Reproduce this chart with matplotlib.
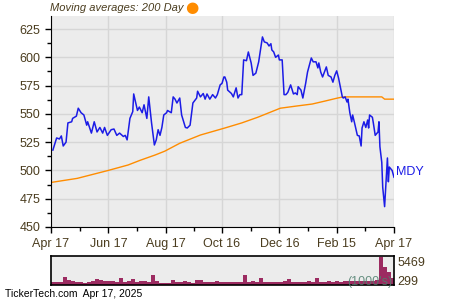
import pandas as pd
import matplotlib
matplotlib.use("Agg")
import matplotlib.pyplot as plt

plt.rcParams['font.family'] = ['Liberation Sans', 'DejaVu Sans']

start = pd.Timestamp('2024-04-17')

# MDY closing prices (days after Apr 17, 2024)
price_days = [2, 6, 9, 11, 13, 16, 18, 22, 23, 27, 29, 32, 35, 38, 39, 43, 46, 49, 52, 55,
              57, 60, 64, 67, 70, 73, 77, 79, 81, 84, 87, 88, 92, 94, 97, 99, 102, 104, 107, 110,
              112, 114, 116, 118, 120, 123, 124, 128, 130, 132, 134, 137, 139, 143, 145, 148, 151, 155, 156, 159,
              162, 164, 166, 169, 172, 175, 177, 180, 182, 184, 185, 187, 188, 192, 194, 197, 199, 201, 203, 205,
              208, 210, 213, 215, 218, 221, 225, 227, 230, 232, 234, 235, 237, 239, 242, 243, 246, 248, 250, 252,
              255, 258, 260, 262, 263, 266, 268, 271, 273, 277, 279, 282, 284, 285, 287, 289, 293, 295, 298, 300,
              302, 304, 306, 310, 311, 313, 315, 316, 318, 320, 321, 323, 326, 328, 330, 331, 333, 335, 337, 338,
              339, 342, 343, 345, 347, 348, 349, 350, 352, 353, 355, 358, 359, 360, 363, 365]
price = [518.0, 528.7, 527.8, 530.5, 521.6, 525.0, 542.0, 543.0, 546.0, 548.0,
         555.0, 551.0, 549.0, 540.0, 543.0, 533.0, 543.0, 534.0, 538.0, 533.0,
         538.0, 531.0, 536.0, 536.6, 531.0, 533.0, 530.0, 531.0, 527.0, 546.0,
         552.0, 567.6, 553.0, 556.0, 551.0, 558.0, 546.0, 565.0, 542.0, 522.5,
         527.0, 536.0, 531.0, 538.0, 549.0, 551.0, 553.0, 551.0, 565.0, 563.0,
         559.6, 564.0, 549.0, 538.0, 537.5, 540.0, 559.6, 564.0, 570.0, 565.0,
         568.0, 563.0, 567.6, 563.0, 567.0, 564.0, 567.0, 575.6, 577.0, 582.6,
         582.6, 578.0, 571.0, 568.0, 565.0, 573.0, 564.0, 567.0, 567.0, 597.7,
         597.0, 604.7, 595.0, 584.0, 586.0, 596.0, 618.0, 613.6, 612.7, 610.0,
         612.0, 606.5, 604.7, 600.0, 602.0, 597.7, 597.7, 567.0, 567.0, 569.0,
         575.6, 567.6, 568.5, 567.0, 574.0, 571.0, 564.0, 577.0, 587.0, 599.4,
         596.0, 596.0, 590.6, 595.0, 587.0, 582.6, 591.5, 584.0, 582.6, 578.0,
         584.0, 588.0, 581.7, 565.0, 564.0, 565.0, 560.5, 563.0, 551.0, 543.0,
         549.0, 542.0, 531.0, 530.5, 521.6, 537.5, 543.0, 538.0, 544.6, 537.5,
         549.0, 547.0, 542.0, 531.0, 533.0, 534.0, 543.0, 521.0, 507.0, 485.0,
         468.0, 511.0, 490.0, 503.0, 500.0, 494.0]

# 200 day moving average
ma_days = [1, 28, 60, 82, 95, 111, 121, 137, 159, 185, 203, 220, 244, 262, 278, 292,
           305, 311, 327, 352, 355, 365]
ma200 = [489.5, 493.0, 499.8, 504.8, 509.0, 513.7, 517.0, 524.0, 531.3, 537.5, 542.0, 547.0,
         555.0, 557.0, 558.7, 561.4, 564.0, 565.0, 565.0, 565.0, 563.0, 563.0]

# volume (thousands), one bar per ~4.26 days
volume = [640, 640, 580, 1600, 900, 770, 510, 580, 320, 640,
          770, 1150, 900, 770, 700, 770, 640, 1400, 640, 700,
          1150, 640, 700, 770, 640, 1900, 770, 380, 380, 450,
          900, 510, 510, 770, 510, 450, 900, 960, 510, 580,
          510, 770, 510, 640, 510, 580, 640, 510, 1900, 640,
          770, 640, 1290, 640, 580, 640, 510, 640, 770, 1150,
          640, 580, 640, 640, 700, 580, 1400, 640, 640, 700,
          640, 770, 640, 770, 770, 700, 770, 700, 830, 770,
          770, 1000, 5469, 3500, 2600, 1400]

tick_dates = ['2024-04-17', '2024-06-17', '2024-08-17', '2024-10-16',
              '2024-12-16', '2025-02-15', '2025-04-17']
tick_labels = ['Apr 17', 'Jun 17', 'Aug 17', 'Oct 16', 'Dec 16', 'Feb 15', 'Apr 17']

txt = '#4a3c1e'
bg = '#ececec'

price_dates = start + pd.to_timedelta(price_days, unit='D')
ma_dates = start + pd.to_timedelta(ma_days, unit='D')
vol_dates = start + pd.to_timedelta([k * 4.256 for k in range(len(volume))], unit='D')
ticks = pd.to_datetime(tick_dates)
minor = ticks[:-1] + (ticks[1:] - ticks[:-1]) / 2

fig = plt.figure(figsize=(4.5, 3), dpi=100)
ax = fig.add_axes([51 / 450, 1 - 227 / 300, 343 / 450, 211 / 300])
ax.set_facecolor(bg)
ax.plot(ma_dates, ma200, color='#ff8c00', lw=1.0)
ax.plot(price_dates, price, color='#1c1ce6', lw=1.1)
ax.set_xlim(ticks[0], ticks[-1])
ax.set_ylim(450, 636.5)
ax.set_yticks([450, 475, 500, 525, 550, 575, 600, 625])
ax.set_yticks([462.5, 487.5, 512.5, 537.5, 562.5, 587.5, 612.5], minor=True)
ax.set_xticks(ticks)
ax.set_xticklabels(tick_labels)
ax.set_xticks(minor, minor=True)
ax.grid(True, which='major', color='#d6d6d6', lw=1)
ax.set_axisbelow(True)
for s in ['top', 'right']:
    ax.spines[s].set_visible(False)
ax.spines['left'].set_color('black')
ax.spines['bottom'].set_color('black')
ax.tick_params(which='both', direction='out', colors='black', labelcolor=txt, labelsize=9, length=4, width=1)
ax.tick_params(which='minor', length=3)
ax.tick_params(axis='x', pad=4)
ax.text(1.005, (499 - 450) / (636.5 - 450), 'MDY', transform=ax.transAxes, color='#1c1ce6',
        fontsize=9, va='center', ha='left')

fig.text(50 / 450, 1 - 8 / 300, 'Moving averages: 200 Day', style='italic', color=txt,
         fontsize=8, va='center', ha='left')
fig.text(192 / 450, 1 - 8 / 300, '\u25cf', color='#ff8c00', fontsize=11, va='center', ha='center',
         family='DejaVu Sans')

# volume panel
vax = fig.add_axes([51 / 450, 0.05, 343 / 450, 29 / 300])
vax.set_facecolor(bg)
vax.bar(vol_dates, volume, width=4.256, align='edge', color='#9c2b61', lw=0)
vax.set_xlim(ticks[0], ticks[-1])
vax.set_ylim(0, 5600)
vax.set_xticks([])
vax.set_yticks([])
for s in vax.spines.values():
    s.set_color('black')
    s.set_linewidth(1.2)
vax.text(1.01, 0.77, '5469', transform=vax.transAxes, color=txt, fontsize=9, va='center', ha='left')
vax.text(1.01, 0.1, '299', transform=vax.transAxes, color=txt, fontsize=9, va='center', ha='left')
vax.text(0.995, 0.1, "(1000's)", transform=vax.transAxes, color='#4f7f6e', fontsize=9,
         va='center', ha='right', alpha=0.85)

fig.text(5 / 450, 1 - 294 / 300, 'TickerTech.com  Apr 17, 2025', color='black', fontsize=7.5,
         va='center', ha='left')

fig.savefig('out.png', dpi=100)
